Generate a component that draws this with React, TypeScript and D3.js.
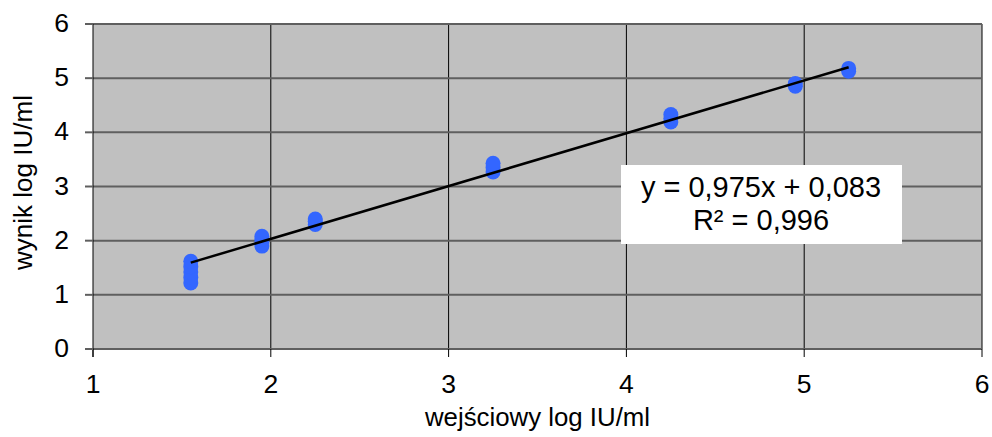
import React, { useRef, useEffect } from 'react';
import * as d3 from 'd3';

// wartości
const inputLevels = [1.55, 1.95, 2.25, 3.25, 4.25, 4.95, 5.25];
const measured = [
  [1.22, 1.32, 1.42, 1.52, 1.62],
  [1.9, 1.96, 2.02, 2.08],
  [2.3, 2.36, 2.4],
  [3.27, 3.35, 3.43],
  [4.19, 4.26, 4.33],
  [4.85, 4.9],
  [5.13, 5.18],
];
const slope = 0.975;
const intercept = 0.083;
const xTicks = [1, 2, 3, 4, 5, 6];
const yTicks = [0, 1, 2, 3, 4, 5, 6];
const eqLabel = 'y = 0,975x + 0,083';
const r2Label = 'R² = 0,996';
const xTitle = 'wejściowy log IU/ml';
const yTitle = 'wynik log IU/ml';

const App = () => {
  const ref = useRef<SVGSVGElement>(null);

  useEffect(() => {
    const svg = d3.select(ref.current);
    svg.selectAll('*').remove();
    const font = 'Liberation Sans, Arial, sans-serif';
    const left = 93, right = 982, top = 24, bottom = 349;

    const x = d3.scaleLinear().domain([1, 6]).range([left, right]);
    const y = d3.scaleLinear().domain([0, 6]).range([bottom, top]);

    svg.append('rect')
      .attr('x', left).attr('y', top)
      .attr('width', right - left).attr('height', bottom - top)
      .attr('fill', '#c0c0c0');

    // pionowe linie siatki
    svg.append('g').selectAll('line')
      .data(xTicks.slice(1))
      .join('line')
      .attr('x1', d => x(d)).attr('x2', d => x(d))
      .attr('y1', top).attr('y2', bottom)
      .attr('stroke', '#000').attr('stroke-width', 1);

    // poziome linie siatki
    svg.append('g').selectAll('line')
      .data(yTicks)
      .join('line')
      .attr('x1', left).attr('x2', right)
      .attr('y1', d => y(d)).attr('y2', d => y(d))
      .attr('stroke', '#5f5f5f').attr('stroke-width', 2);

    // osie
    svg.append('line')
      .attr('x1', left).attr('x2', left).attr('y1', top).attr('y2', bottom + 8)
      .attr('stroke', '#000');
    svg.append('g').selectAll('line')
      .data(xTicks)
      .join('line')
      .attr('x1', d => x(d)).attr('x2', d => x(d))
      .attr('y1', bottom).attr('y2', bottom + 8)
      .attr('stroke', '#000');
    svg.append('g').selectAll('line')
      .data(yTicks)
      .join('line')
      .attr('x1', left - 8).attr('x2', left)
      .attr('y1', d => y(d)).attr('y2', d => y(d))
      .attr('stroke', '#5f5f5f').attr('stroke-width', 2);

    svg.append('g').selectAll('text')
      .data(xTicks)
      .join('text')
      .attr('x', d => x(d)).attr('y', 393)
      .attr('text-anchor', 'middle')
      .attr('font-family', font).attr('font-size', 26.5)
      .text(d => d);
    svg.append('g').selectAll('text')
      .data(yTicks)
      .join('text')
      .attr('x', 69).attr('y', d => y(d) + 8)
      .attr('text-anchor', 'end')
      .attr('font-family', font).attr('font-size', 26.5)
      .text(d => d);

    svg.append('text')
      .attr('x', x(3.5)).attr('y', 426)
      .attr('text-anchor', 'middle')
      .attr('font-family', font).attr('font-size', 25.8)
      .text(xTitle);
    svg.append('text')
      .attr('transform', `translate(32,${(top + bottom) / 2 - 4}) rotate(-90)`)
      .attr('text-anchor', 'middle')
      .attr('font-family', font).attr('font-size', 26)
      .text(yTitle);

    // punkty
    const pts = inputLevels.flatMap((lv, i) => measured[i].map(v => ({ x: lv, y: v })));
    svg.append('g').selectAll('circle')
      .data(pts)
      .join('circle')
      .attr('cx', d => x(d.x)).attr('cy', d => y(d.y))
      .attr('r', 7.5)
      .attr('fill', '#3366ff');

    // linia trendu
    const x0 = d3.min(inputLevels)!, x1 = d3.max(inputLevels)!;
    const line = d3.line<number>().x(d => x(d)).y(d => y(slope * d + intercept));
    svg.append('path')
      .datum([x0, x1])
      .attr('d', line)
      .attr('fill', 'none')
      .attr('stroke', '#000').attr('stroke-width', 2.5);

    // etykieta równania
    svg.append('rect')
      .attr('x', 621).attr('y', 165).attr('width', 281).attr('height', 79)
      .attr('fill', '#fff');
    svg.append('text')
      .attr('x', 761).attr('y', 197)
      .attr('text-anchor', 'middle')
      .attr('font-family', font).attr('font-size', 29)
      .text(eqLabel);
    svg.append('text')
      .attr('x', 761).attr('y', 230)
      .attr('text-anchor', 'middle')
      .attr('font-family', font).attr('font-size', 29)
      .text(r2Label);
  }, []);

  return <svg ref={ref} width="992" height="437" style={{ display: 'block', position: 'absolute', left: 0, top: 0 }}></svg>;
};

export default App;
